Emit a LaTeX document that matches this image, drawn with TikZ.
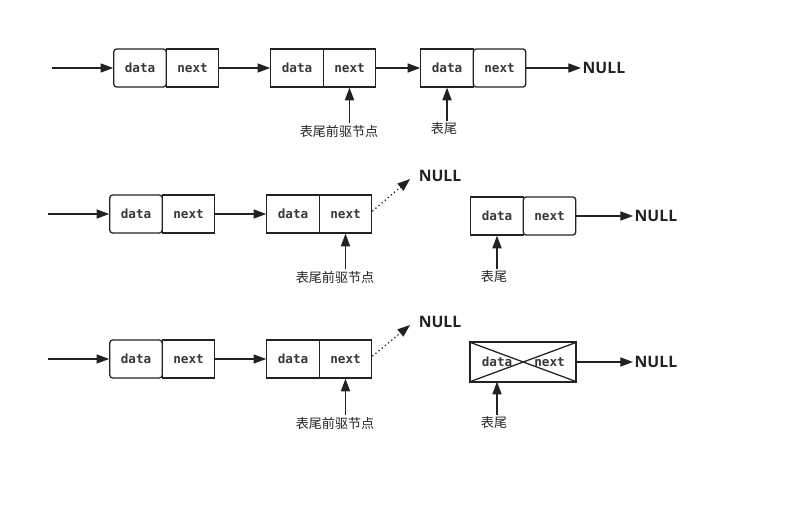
\documentclass[tikz,border=0pt]{standalone}
\usepackage{fontspec}
\usetikzlibrary{arrows.meta}
\newfontfamily\cjk{Noto Sans CJK SC}
\newfontfamily\nulltextfont{Open Sans}
\newfontfamily\cellfont{DejaVu Sans Mono}
\definecolor{ink}{HTML}{222222}

\tikzset{
  cell/.style={draw=ink, text=ink!90, line width=0.9pt, minimum width=1.31cm, minimum height=0.95cm, inner sep=0pt, font=\cellfont\bfseries\fontsize{9}{9}\selectfont},
  bare/.style={cell, draw=none},
  nullt/.style={text=ink, font=\nulltextfont\bfseries\fontsize{11.2}{12}\selectfont, inner sep=1pt},
  lab/.style={text=ink, font=\cjk\fontsize{9.3}{9.3}\selectfont, inner sep=1pt},
  arr/.style={draw=ink, line width=0.9pt, -{Triangle[length=9pt, width=6.5pt]}}
}

\begin{document}
\begin{tikzpicture}[x=0.025cm,y=-0.025cm]
\useasboundingbox (0,0) rectangle (796,505);

% row 1
\node [cell, rounded corners=2pt] (r1d1) at (140,68) {data};
\node [cell] (r1n1) at (192.5,68) {next};
\node [cell] (r1d2) at (297,68) {data};
\node [cell] (r1n2) at (349.5,68) {next};
\node [cell] (r1d3) at (447,68) {data};
\node [cell, rounded corners=2pt] (r1n3) at (499.5,68) {next};
\node [nullt, anchor=west] (null1) at (581,68) {NULL};
\coordinate (s1) at (52,68);
\draw [arr] (s1) -- (r1d1);
\draw [arr] (r1n1) -- (r1d2);
\draw [arr] (r1n2) -- (r1d3);
\draw [arr] (r1n3) -- (null1);
\node [lab] (l1a) at (339,131) {表尾前驱节点};
\node [lab] (l1b) at (444,129) {表尾};
\draw [arr] (r1n2.south |- l1a.north) -- (r1n2.south);
\draw [arr] (r1d3.south |- l1b.north) -- (r1d3.south);

% row 2
\node [cell, rounded corners=2pt] (r2d1) at (136,214) {data};
\node [cell] (r2n1) at (188.5,214) {next};
\node [cell] (r2d2) at (293,214) {data};
\node [cell] (r2n2) at (345.5,214) {next};
\node [cell] (r2d3) at (497,216) {data};
\node [cell, rounded corners=2pt] (r2n3) at (549.5,216) {next};
\node [nullt] (null2) at (440,176) {NULL};
\node [nullt, anchor=west] (null3) at (633,216) {NULL};
\coordinate (s2) at (48,214);
\draw [arr] (s2) -- (r2d1);
\draw [arr] (r2n1) -- (r2d2);
\draw [arr, dotted] ([yshift=2]r2n2.east) -- ([shift={(-7,3)}]null2.west);
\draw [arr] (r2n3) -- (null3);
\node [lab] (l2a) at (335,277) {表尾前驱节点};
\node [lab] (l2b) at (494,277) {表尾};
\draw [arr] (r2n2.south |- l2a.north) -- (r2n2.south);
\draw [arr] (r2d3.south |- l2b.north) -- (r2d3.south);

% row 3
\node [cell, rounded corners=2pt] (r3d1) at (136,359) {data};
\node [cell] (r3n1) at (188.5,359) {next};
\node [cell] (r3d2) at (293,359) {data};
\node [cell] (r3n2) at (345.5,359) {next};
\node [bare] (r3d3) at (497,362) {data};
\node [bare] (r3n3) at (549.5,362) {next};
\draw [ink, line width=1.4pt] (r3d3.north west) rectangle (r3n3.south east);
\draw [ink, line width=0.9pt] (r3d3.north west) -- (r3n3.south east);
\draw [ink, line width=0.9pt] (r3d3.south west) -- (r3n3.north east);
\node [nullt] (null4) at (440,322) {NULL};
\node [nullt, anchor=west] (null5) at (633,362) {NULL};
\coordinate (s3) at (48,359);
\draw [arr] (s3) -- (r3d1);
\draw [arr] (r3n1) -- (r3d2);
\draw [arr, dotted] ([yshift=2]r3n2.east) -- ([shift={(-7,3)}]null4.west);
\draw [arr] (r3n3) -- (null5);
\node [lab] (l3a) at (335,423) {表尾前驱节点};
\node [lab] (l3b) at (494,423) {表尾};
\draw [arr] (r3n2.south |- l3a.north) -- (r3n2.south);
\draw [arr] (r3d3.south |- l3b.north) -- (r3d3.south);
\end{tikzpicture}
\end{document}
